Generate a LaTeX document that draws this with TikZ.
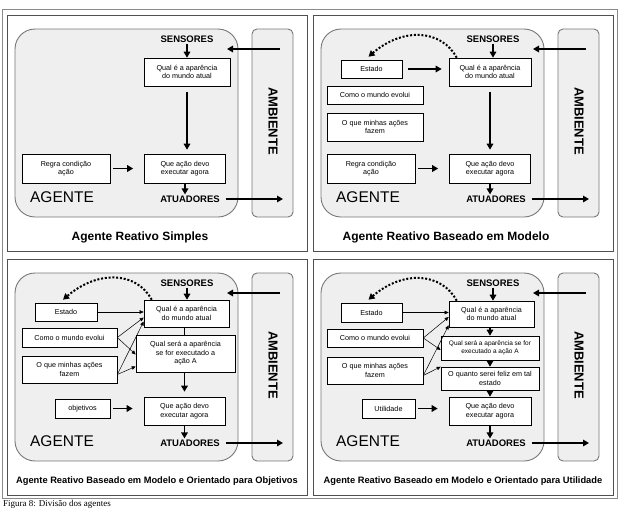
\documentclass[tikz,border=0pt]{standalone}
\usepackage{fontspec}
\setmainfont{Liberation Serif}
\setsansfont{Liberation Sans}
\usepackage{xcolor}
\usetikzlibrary{arrows.meta}
\definecolor{frameGray}{HTML}{505050}
\definecolor{outerGray}{HTML}{8A8A8A}
\definecolor{agentFill}{HTML}{EFEFEF}
\definecolor{agentLine}{HTML}{777777}
% common parts of one panel: frame, agent, environment, title
\newcommand{\agentframe}[3]{%
  \draw[panelframe] (7,15) rectangle (307,251);
  \draw[agentbox] (15,29) rectangle (238,217);
  \draw[envbox] (252,29) rectangle (293,217);
  \node[amblbl] (amb) at (273,121) {AMBIENTE};
  \node[senslbl] (sens) at (187,39) {SENSORES};
  \node[senslbl] (atua) at (190,199) {ATUADORES};
  \node[agentlbl] (agente) at (62,197) {AGENTE};
  \coordinate (envout) at (280,49);
  \coordinate (agin) at (227,49);
  \coordinate (envin) at (283,199);
  \draw[bigarrow] (envout) -- (agin);
  \draw[bigarrow,shorten <=5pt] (atua) -- (envin);
  \node[titlelbl,font=\sffamily\bfseries\fontsize{#2}{#2}\selectfont] (titulo) at (#1,237) {#3};
}

\begin{document}
\begin{tikzpicture}[x=1pt,y=-1pt,
    panelframe/.style={draw=frameGray,line width=0.9pt},
    agentbox/.style={draw=agentLine,fill=agentFill,line width=0.9pt,rounded corners=20pt},
    envbox/.style={draw=agentLine,fill=agentFill,line width=0.9pt,rounded corners=5pt},
    infobox/.style={draw=black,fill=white,line width=0.6pt,inner sep=1pt,
                    align=center,font=\sffamily\fontsize{7.2}{8.4}\selectfont},
    senslbl/.style={font=\sffamily\bfseries\fontsize{9.5}{10}\selectfont,inner sep=1pt},
    agentlbl/.style={font=\sffamily\fontsize{15.5}{16}\selectfont},
    amblbl/.style={font=\sffamily\bfseries\fontsize{13}{14}\selectfont,rotate=-90},
    titlelbl/.style={font=\sffamily\bfseries},
    bigarrow/.style={line width=1.5pt,-{Triangle[length=6pt,width=6.5pt]}},
    thinarrow/.style={line width=0.5pt,-{Triangle[length=4pt,width=3.5pt]}},
    dotarc/.style={line width=2pt,dash pattern=on 2pt off 1.8pt,
                   -{Triangle[length=6pt,width=6.5pt]}}
  ]
  \useasboundingbox (0,0) rectangle (619,509);
  \draw[outerGray,line width=0.6pt] (2,9) rectangle (617,498);

  % simple reflex agent
  \begin{scope}[name prefix=s-]
    \agentframe{140}{12}{Agente Reativo Simples}
    \node[infobox,minimum width=86pt,minimum height=28pt] (qual) at (187,72) {Qual é a aparência\\do mundo atual};
    \node[infobox,minimum width=81pt,minimum height=29pt] (acao) at (185,168.5) {Que ação devo\\executar agora};
    \node[infobox,minimum width=88pt,minimum height=29pt] (regra) at (66,168.5) {Regra condição\\ação};
    \draw[bigarrow] (sens.south) -- (sens.south |- qual.north);
    \draw[bigarrow,shorten <=6pt,shorten >=4pt] (qual.south) -- (qual.south |- acao.north);
    \draw[bigarrow,shorten <=3pt,shorten >=11pt] (regra) -- (acao);
    \draw[bigarrow] (acao.south) -- (acao.south |- atua.north);
  \end{scope}

  % model based agent
  \begin{scope}[shift={(306,0)},name prefix=m-]
    \agentframe{140}{12}{Agente Reativo Baseado em Modelo}
    \node[infobox,minimum width=82pt,minimum height=28pt] (qual) at (184,72) {Qual é a aparência\\do mundo atual};
    \node[infobox,minimum width=61pt,minimum height=18pt] (estado) at (65.5,69) {Estado};
    \node[infobox,minimum width=96pt,minimum height=18pt] (como) at (69,95) {Como o mundo evolui};
    \node[infobox,minimum width=96pt,minimum height=28pt] (oque) at (69,127) {O que minhas ações\\fazem};
    \node[infobox,minimum width=88pt,minimum height=29pt] (regra) at (65,168.5) {Regra condição\\ação};
    \node[infobox,minimum width=81pt,minimum height=29pt] (acao) at (184,168.5) {Que ação devo\\executar agora};
    \draw[bigarrow] (sens.south) -- (sens.south |- qual.north);
    \draw[bigarrow,shorten <=6pt,shorten >=7pt] (estado.east) -- (estado.east -| qual.west);
    \draw[bigarrow,shorten <=6pt,shorten >=4pt] (qual.south) -- (qual.south |- acao.north);
    \draw[bigarrow,shorten <=3pt,shorten >=11pt] (regra) -- (acao);
    \draw[bigarrow] (acao.south) -- (acao.south |- atua.north);
    \draw[dotarc] ([xshift=8pt]qual.north west) .. controls +(-15,-28) and +(35,-30) .. ([xshift=-3pt,yshift=3pt]estado.north);
  \end{scope}

  % goal based agent
  \begin{scope}[shift={(0,244)},name prefix=o-]
    \agentframe{157}{9.3}{Agente Reativo Baseado em Modelo e Orientado para Objetivos}
    \node[infobox,minimum width=85pt,minimum height=27pt] (qual) at (186.5,69.5) {Qual é a aparência\\do mundo atual};
    \node[infobox,minimum width=62pt,minimum height=18pt] (estado) at (66,68) {Estado};
    \node[infobox,minimum width=95pt,minimum height=19pt] (como) at (69.5,93.5) {Como o mundo evolui};
    \node[infobox,minimum width=95pt,minimum height=27pt] (oque) at (69.5,125.5) {O que minhas ações\\fazem};
    \node[infobox,minimum width=99pt,minimum height=37pt] (sera) at (185.5,109.5) {Qual será a aparência\\se for executado a\\ação A};
    \node[infobox,minimum width=55pt,minimum height=19pt] (objetivos) at (82.5,164.5) {objetivos};
    \node[infobox,minimum width=81pt,minimum height=28pt] (acao) at (184.5,167) {Que ação devo\\executar agora};
    \draw[bigarrow] (sens.south) -- (sens.south |- qual.north);
    \draw[line width=1.5pt] (qual.south -| acao.north) -- (sera.north -| acao.north);
    \draw[bigarrow,shorten >=5pt] (sera.south -| acao.north) -- (acao.north);
    \draw[bigarrow,shorten <=3pt,shorten >=11pt] (objetivos) -- (objetivos -| acao.west);
    \draw[bigarrow] (acao.south) -- (acao.south |- atua.north);
    \draw[thinarrow] (estado.east) -- (estado.east -| qual.west);
    \draw[thinarrow] (como.east) -- ([yshift=-4pt]qual.west);
    \draw[thinarrow] (como.east) -- ([yshift=-1pt]sera.west);
    \draw[thinarrow] ([yshift=-5pt]oque.east) -- ([yshift=-8pt]qual.west);
    \draw[thinarrow] ([yshift=-5pt]oque.east) -- ([yshift=-13pt]sera.west);
    \draw[dotarc] ([xshift=8pt]qual.north west) .. controls +(-15,-28) and +(35,-30) .. ([xshift=-3pt,yshift=3pt]estado.north);
  \end{scope}

  % utility based agent
  \begin{scope}[shift={(306,244)},name prefix=u-]
    \agentframe{157}{9.3}{Agente Reativo Baseado em Modelo e Orientado para Utilidade}
    \node[infobox,minimum width=85pt,minimum height=26pt] (qual) at (185.5,70) {Qual é a aparência\\do mundo atual};
    \node[infobox,minimum width=61pt,minimum height=19pt] (estado) at (65.5,68.5) {Estado};
    \node[infobox,minimum width=96pt,minimum height=18pt] (como) at (69,94) {Como o mundo evolui};
    \node[infobox,minimum width=96pt,minimum height=27pt] (oque) at (69,126.5) {O que minhas ações\\fazem};
    \node[infobox,minimum width=98pt,minimum height=24pt,font=\sffamily\fontsize{6.5}{7.5}\selectfont] (sera) at (184,104) {Qual será a aparência se for\\executado a ação A};
    \node[infobox,minimum width=98pt,minimum height=23pt] (quanto) at (184,134.5) {O quanto serei feliz em tal\\estado};
    \node[infobox,minimum width=53pt,minimum height=19pt] (utilidade) at (82.5,164.5) {Utilidade};
    \node[infobox,minimum width=82pt,minimum height=28pt] (acao) at (184,167) {Que ação devo\\executar agora};
    \draw[bigarrow] (sens.south) -- (sens.south |- qual.north);
    \draw[bigarrow] (qual.south -| acao.north) -- (sera.north -| acao.north);
    \draw[bigarrow] (sera.south -| acao.north) -- (quanto.north -| acao.north);
    \draw[bigarrow] (quanto.south -| acao.north) -- (acao.north);
    \draw[bigarrow,shorten <=3pt,shorten >=11pt] (utilidade) -- (utilidade -| acao.west);
    \draw[bigarrow] (acao.south) -- (acao.south |- atua.north);
    \draw[thinarrow] (estado.east) -- (estado.east -| qual.west);
    \draw[thinarrow] (como.east) -- ([yshift=-3pt]qual.west);
    \draw[thinarrow] (como.east) -- ([yshift=-2pt]sera.west);
    \draw[thinarrow] ([yshift=-5pt]oque.east) -- ([yshift=2pt]qual.south west);
    \draw[thinarrow] ([yshift=-5pt]oque.east) -- (quanto.north west);
    \draw[dotarc] ([xshift=8pt]qual.north west) .. controls +(-15,-28) and +(35,-30) .. ([xshift=-3pt,yshift=3pt]estado.north);
  \end{scope}

  \node[font=\rmfamily\fontsize{9}{10}\selectfont,anchor=north west,inner sep=0pt] (legenda) at (3,500) {Figura 8: Divisão dos agentes};
\end{tikzpicture}
\end{document}
